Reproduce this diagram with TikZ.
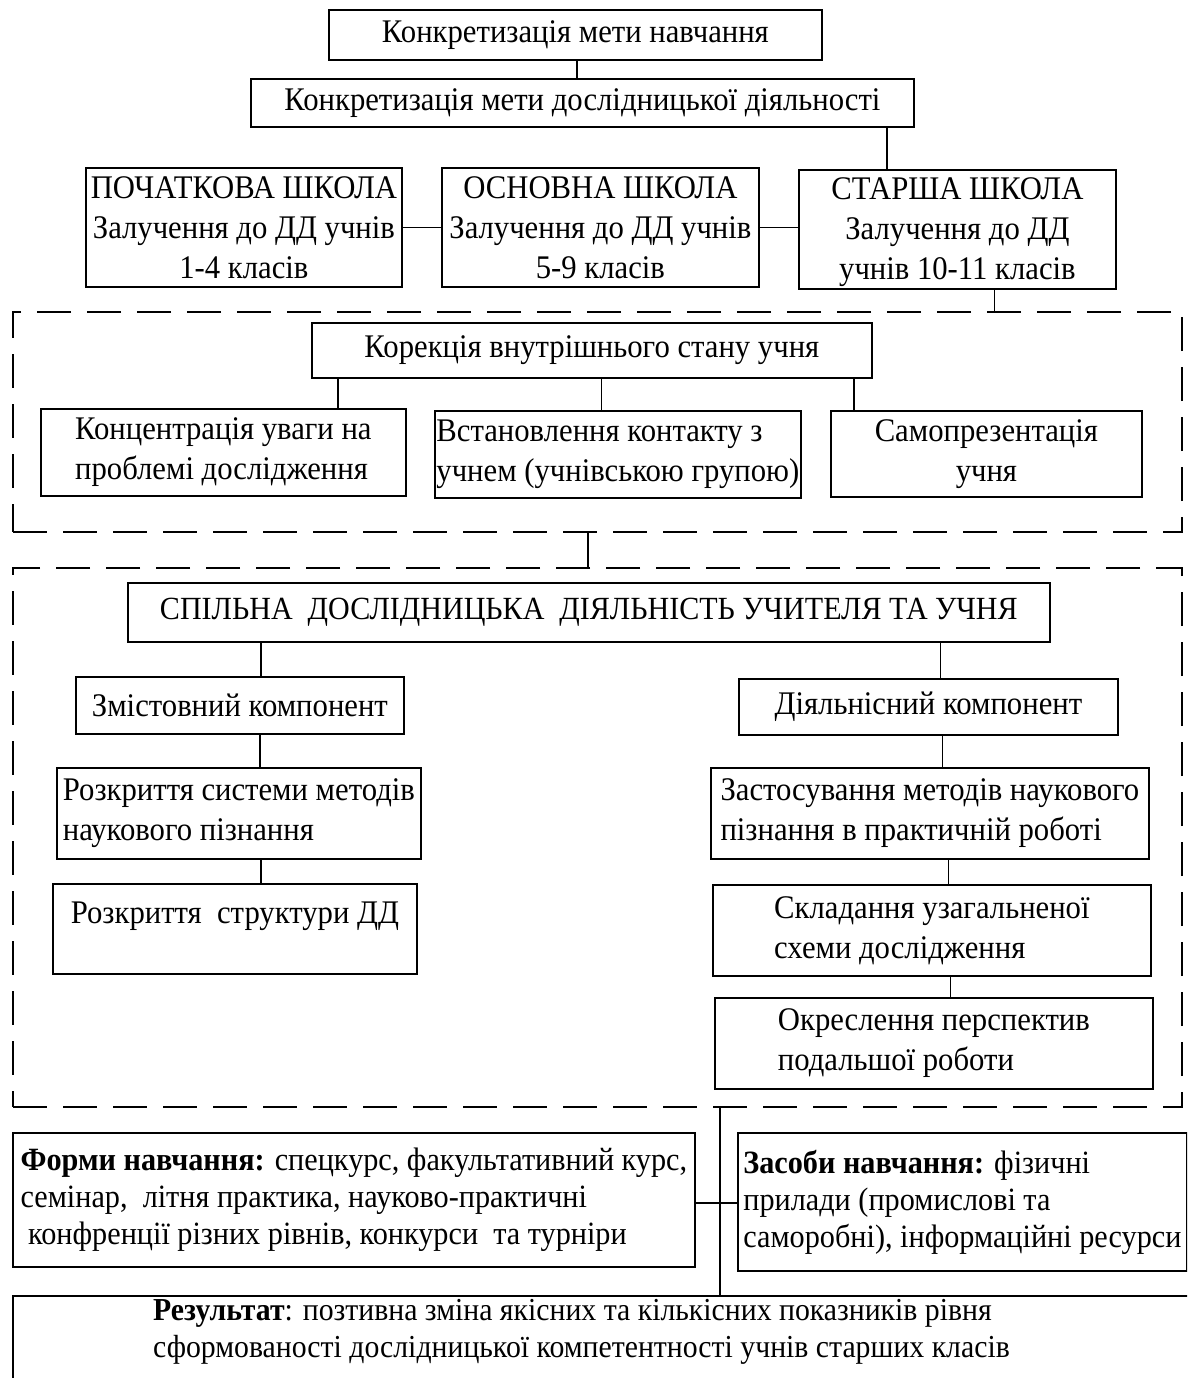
\documentclass[tikz,border=0pt]{standalone}
\usepackage{fontspec}
\setmainfont{Liberation Serif}[FakeStretch=0.93]
\newcommand\Bx[7]{\node[bx,minimum width={#4-#2},minimum height={#5-#3},#6] (#1) at (#2,#3) {#7};}
\begin{document}
\begin{tikzpicture}[x=1pt,y=-1pt,
  bx/.style={draw, line width=1.8pt, inner sep=0pt, anchor=north west, align=center, font=\fontsize{33}{40}\selectfont},
  dbox/.style={draw, line width=2pt, dash pattern=on 34pt off 16pt, inner sep=0pt, anchor=north west},
  ln/.style={line width=1.8pt},
  small/.style={font=\fontsize{32.5}{37}\selectfont}]
\useasboundingbox (0,0) rectangle (1187,1378);
\fill[white] (0,0) rectangle (1187,1378);
\begin{scope}
\clip (0,0) rectangle (1187,1378);
% top boxes
\Bx{A}{328}{9}{821}{59}{}{Конкретизація мети навчання}
\Bx{B}{250}{78}{913}{126}{}{Конкретизація мети дослідницької діяльності}
\Bx{C}{85}{167}{401}{286}{}{ПОЧАТКОВА ШКОЛА\\Залучення до ДД учнів\\1-4 класів}
\Bx{D}{441}{167}{758}{286}{}{ОСНОВНА ШКОЛА\\Залучення до ДД учнів\\5-9 класів}
\Bx{E}{798}{169}{1115}{288}{}{\rule{0pt}{28pt}СТАРША ШКОЛА\\Залучення до ДД\\учнів 10-11 класів}
% first dashed frame
\node[dbox, minimum width=1169, minimum height=220] (Z1) at (12,311) {};
\Bx{F}{311}{322}{871}{377}{}{Корекція внутрішнього стану учня}
\Bx{G}{40}{408}{405}{495}{align=left}{Концентрація уваги на\\проблемі дослідження}
\Bx{H}{434}{410}{800}{497}{align=left}{Встановлення контакту з\\учнем (учнівською групою)}
\Bx{I}{830}{410}{1141}{496}{}{Самопрезентація\\учня}
% second dashed frame
\node[dbox, minimum width=1169, minimum height=539] (Z2) at (12,567) {};
\Bx{J}{127}{582}{1049}{641}{font=\fontsize{32.3}{40}\selectfont}{СПІЛЬНА~~ДОСЛІДНИЦЬКА~~ДІЯЛЬНІСТЬ УЧИТЕЛЯ ТА УЧНЯ}
\Bx{K}{75}{676}{403}{733}{}{Змістовний компонент}
\Bx{L}{738}{678}{1117}{734}{}{Діяльнісний компонент}
\Bx{M}{56}{767}{420}{858}{align=left}{Розкриття системи методів\\наукового пізнання}
\Bx{N}{52}{883}{416}{973}{}{Розкриття~~структури ДД\\[-8pt]\mbox{}}
\Bx{O}{710}{767}{1148}{858}{align=left}{Застосування методів наукового\\пізнання в практичній роботі}
\Bx{P}{712}{884}{1150}{975}{align=left}{Складання узагальненої\\схеми дослідження}
\Bx{Q}{714}{997}{1152}{1088}{align=left}{Окреслення перспектив\\подальшої роботи}
% bottom
\Bx{R}{12}{1132}{694}{1266}{align=left,small}{\textbf{Форми навчання:} спецкурс, факультативний курс,\\семінар,~~літня практика, науково-практичні\\~конфренції різних рівнів, конкурси~~та турніри}
\Bx{S}{737}{1132}{1186}{1270}{align=left,small}{\textbf{Засоби навчання:} фізичні\\прилади (промислові та\\саморобні), інформаційні ресурси}
\Bx{T}{12}{1295}{1200}{1420}{}{}
\node[anchor=north west, inner sep=0pt, align=left, font=\fontsize{32}{37}\selectfont] (Tt) at (153,1299) {\textbf{Результат}: позтивна зміна якісних та кількісних показників рівня\\сформованості дослідницької компетентності учнів старших класів};
% connector x/y positions
\coordinate (xAB) at (577,0);
\coordinate (xBE) at (887,0);
\coordinate (xEZ) at (994.5,0);
\coordinate (xFG) at (338,0);
\coordinate (xFH) at (601.5,0);
\coordinate (xFI) at (854,0);
\coordinate (xZZ) at (588,0);
\coordinate (xJK) at (261,0);
\coordinate (xJL) at (940.5,0);
\coordinate (xKM) at (260,0);
\coordinate (xMN) at (261,0);
\coordinate (xLO) at (942.5,0);
\coordinate (xOP) at (948.5,0);
\coordinate (xPQ) at (950.5,0);
\coordinate (xZT) at (720,0);
\coordinate (yRS) at (0,1203);
\draw[ln] (A.south -| xAB) -- (B.north -| xAB);
\draw[ln] (B.south -| xBE) -- (E.north -| xBE);
\draw[ln] (C.east) -- (D.west |- C.east);
\draw[ln] (D.east) -- (E.west |- D.east);
\draw[ln] (E.south -| xEZ) -- (Z1.north -| xEZ);
\draw[ln] (F.south -| xFG) -- (G.north -| xFG);
\draw[ln] (F.south -| xFH) -- (H.north -| xFH);
\draw[ln] (F.south -| xFI) -- (I.north -| xFI);
\draw[ln] (Z1.south -| xZZ) -- (Z2.north -| xZZ);
\draw[ln] (J.south -| xJK) -- (K.north -| xJK);
\draw[ln] (J.south -| xJL) -- (L.north -| xJL);
\draw[ln] (K.south -| xKM) -- (M.north -| xKM);
\draw[ln] (M.south -| xMN) -- (N.north -| xMN);
\draw[ln] (L.south -| xLO) -- (O.north -| xLO);
\draw[ln] (O.south -| xOP) -- (P.north -| xOP);
\draw[ln] (P.south -| xPQ) -- (Q.north -| xPQ);
\draw[ln] (Z2.south -| xZT) -- (T.north -| xZT);
\draw[ln] (R.east |- yRS) -- (S.west |- yRS);
\end{scope}
\end{tikzpicture}
\end{document}
